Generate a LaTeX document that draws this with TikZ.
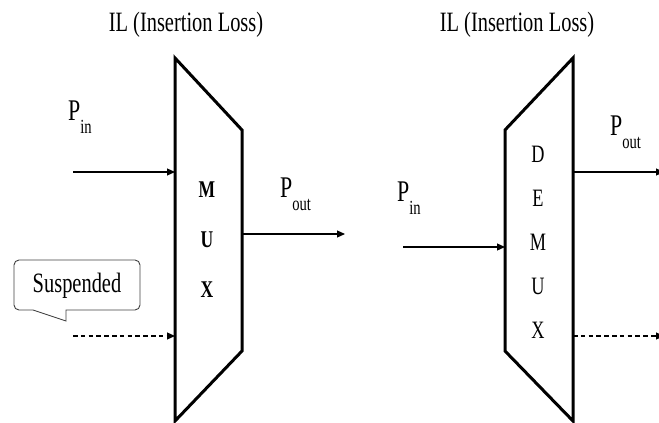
\documentclass[tikz,border=0pt]{standalone}
\usepackage{fontspec}
\setmainfont{Liberation Serif}[FakeStretch=0.73]
\usetikzlibrary{arrows.meta}
\newcommand{\pwr}[1]{P\raisebox{-13pt}{\fontsize{20}{20}\selectfont #1}}

\begin{document}
\begin{tikzpicture}[x=1pt,y=-1pt,
    box/.style={line width=3pt,line join=miter},
    sig/.style={line width=1.2pt,-{Triangle[length=8pt,width=7pt]}},
    idle/.style={sig,dash pattern=on 4.5pt off 3.3pt},
    title/.style={font=\fontsize{28}{28}\selectfont,anchor=base,inner sep=0pt},
    plbl/.style={font=\fontsize{30}{30}\selectfont,anchor=base west,inner sep=0pt},
    letter/.style={font=\fontsize{25}{25}\selectfont,inner sep=0pt}]
  \useasboundingbox (0,0) rectangle (659,423);
  % multiplexer and demultiplexer bodies
  \draw[box] (175,58) -- (242,130) -- (242,351) -- (175,421) -- cycle;
  \draw[box] (505,130) -- (573,58) -- (573,421) -- (505,351) -- cycle;
  \foreach \l [count=\i] in {M,U,X}
    \node[letter,font=\fontsize{24}{24}\selectfont\bfseries] (mux\l) at (207,{190+50*(\i-1)}) {\l};
  \foreach \l [count=\i] in {D,E,M,U,X}
    \node[letter] (demux\i) at (538,{154+44*(\i-1)}) {\l};
  % labels
  \node[title] (ilmux) at (186,31) {IL (Insertion Loss)};
  \node[title] (ildemux) at (517,31) {IL (Insertion Loss)};
  \node[plbl] (pinmux) at (68,120) {\pwr{in}};
  \node[plbl] (poutmux) at (280,197) {\pwr{out}};
  \node[plbl] (pindemux) at (397,201) {\pwr{in}};
  \node[plbl] (poutdemux) at (610,135) {\pwr{out}};
  % connection points
  \coordinate (src1) at (73,172);
  \coordinate (mux-in1) at (175,172);
  \coordinate (src2) at (73,336);
  \coordinate (mux-in2) at (175,336);
  \coordinate (mux-out) at (242,234);
  \coordinate (sink1) at (345,234);
  \coordinate (src3) at (403,247);
  \coordinate (demux-in) at (505,247);
  \coordinate (demux-out1) at (573,172);
  \coordinate (sink2) at (664,172);
  \coordinate (demux-out2) at (573,336);
  \coordinate (sink3) at (664,336);
  \draw[sig] (src1) -- (mux-in1);
  \draw[idle] (src2) -- (mux-in2);
  \draw[sig] (mux-out) -- (sink1);
  \draw[sig] (src3) -- (demux-in);
  \draw[sig] (demux-out1) -- (sink2);
  \draw[idle] (demux-out2) -- (sink3);
  % callout
  \draw[black!75,line width=0.9pt] (33,310) [rounded corners=5pt] -- (14,310) -- (14,260)
    -- (140,260) -- (140,310) [sharp corners] -- (66,310) -- (66,321) -- cycle;
  \node[font=\fontsize{28}{28}\selectfont,anchor=base,inner sep=0pt] (susp) at (77,292) {Suspended};
\end{tikzpicture}
\end{document}
